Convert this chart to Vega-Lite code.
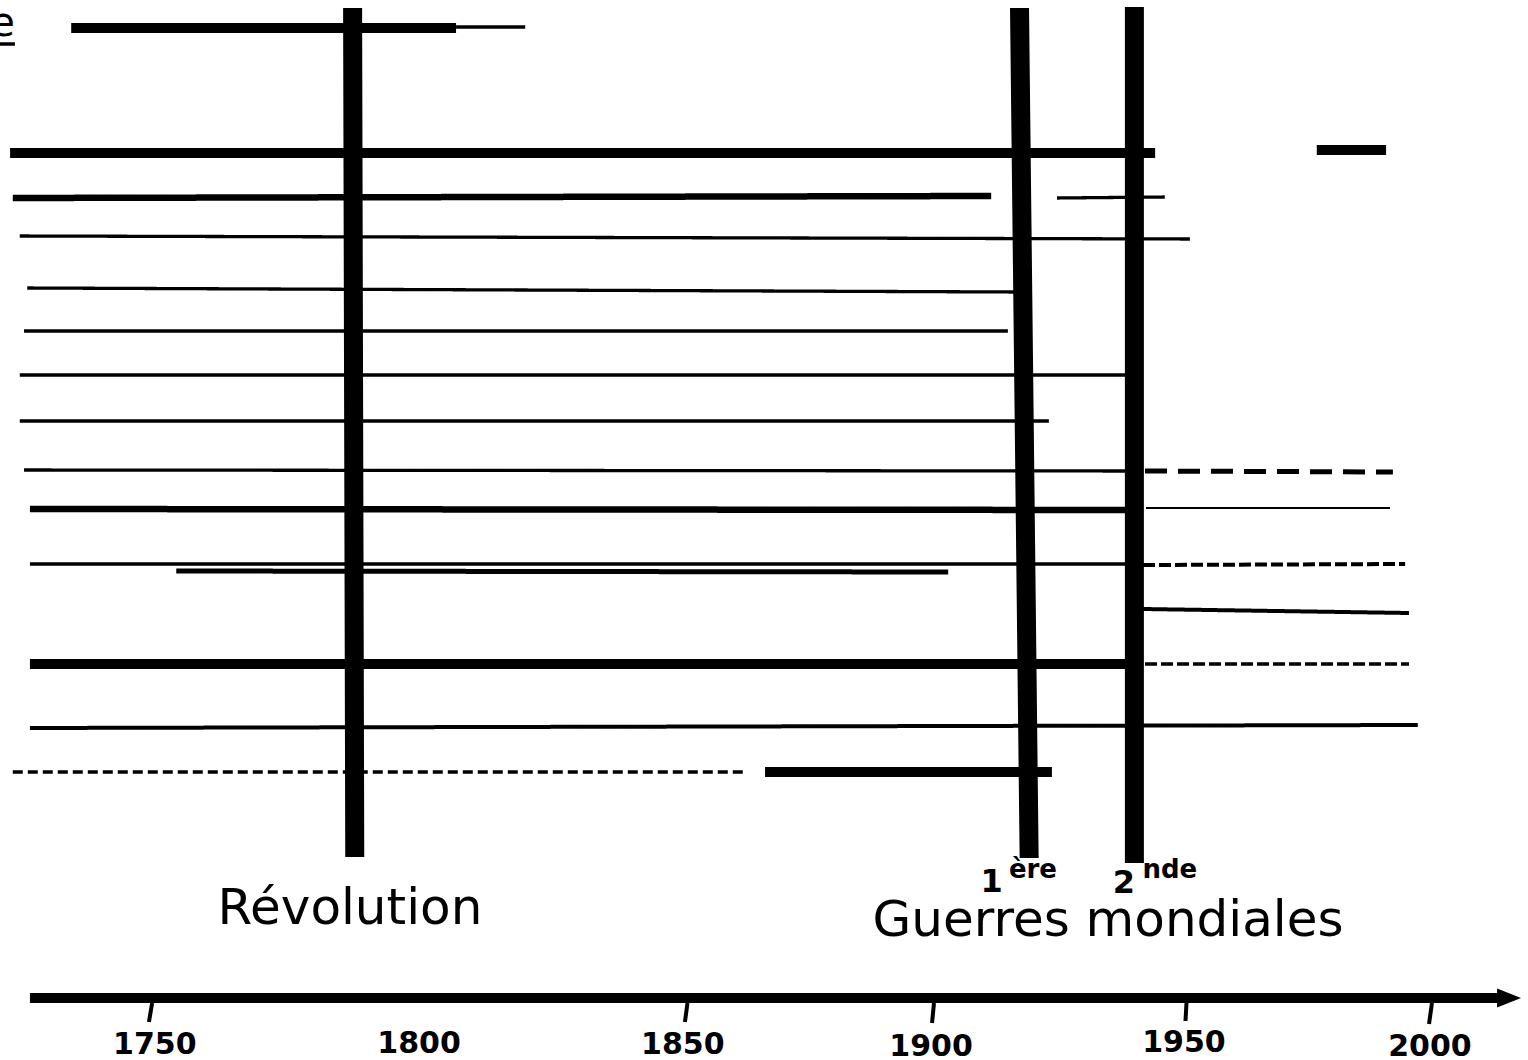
{
  "$schema": "https://vega.github.io/schema/vega-lite/v6.json",
  "width": 1528,
  "height": 1060,
  "autosize": {"type": "none"},
  "padding": 0,
  "background": "white",
  "config": {"view": {"stroke": null}},
  "datasets": {
    "segments": [
      {"nom": "ligne 1", "debut": 1735.3, "fin": 1807.1, "niveau": 28, "niveau2": 28, "epaisseur": "très épais", "trait": "plein"},
      {"nom": "ligne 1 suite", "debut": 1807.1, "fin": 1820.0, "niveau": 27, "niveau2": 27, "epaisseur": "fin", "trait": "plein"},
      {"nom": "ligne 2", "debut": 1723.9, "fin": 1943.9, "niveau": 153, "niveau2": 153, "epaisseur": "très épais", "trait": "plein"},
      {"nom": "ligne 2 reprise", "debut": 1976.8, "fin": 1991.0, "niveau": 150, "niveau2": 150, "epaisseur": "très épais", "trait": "plein"},
      {"nom": "ligne 3", "debut": 1724.4, "fin": 1911.5, "niveau": 198, "niveau2": 196, "epaisseur": "épais", "trait": "plein"},
      {"nom": "ligne 3 reprise", "debut": 1924.5, "fin": 1945.8, "niveau": 198, "niveau2": 197, "epaisseur": "fin", "trait": "plein"},
      {"nom": "ligne 4", "debut": 1725.7, "fin": 1950.8, "niveau": 236, "niveau2": 239, "epaisseur": "fin", "trait": "plein"},
      {"nom": "ligne 5", "debut": 1727.1, "fin": 1916.2, "niveau": 288, "niveau2": 292, "epaisseur": "fin", "trait": "plein"},
      {"nom": "ligne 6", "debut": 1726.5, "fin": 1914.8, "niveau": 331, "niveau2": 331, "epaisseur": "fin", "trait": "plein"},
      {"nom": "ligne 7", "debut": 1725.7, "fin": 1938.3, "niveau": 375, "niveau2": 375, "epaisseur": "fin", "trait": "plein"},
      {"nom": "ligne 8", "debut": 1725.7, "fin": 1922.9, "niveau": 421, "niveau2": 421, "epaisseur": "fin", "trait": "plein"},
      {"nom": "ligne 9", "debut": 1726.5, "fin": 1938.9, "niveau": 470, "niveau2": 471, "epaisseur": "fin", "trait": "plein"},
      {"nom": "ligne 9 suite", "debut": 1941.9, "fin": 1992.4, "niveau": 471, "niveau2": 472, "epaisseur": "moyen", "trait": "tirets longs"},
      {"nom": "ligne 10", "debut": 1727.6, "fin": 1938.9, "niveau": 509, "niveau2": 510, "epaisseur": "épais", "trait": "plein"},
      {"nom": "ligne 10 suite", "debut": 1942.1, "fin": 1991.8, "niveau": 508, "niveau2": 508, "epaisseur": "très fin", "trait": "plein"},
      {"nom": "ligne 11", "debut": 1727.6, "fin": 1938.9, "niveau": 564, "niveau2": 564, "epaisseur": "fin", "trait": "plein"},
      {"nom": "ligne 11 suite", "debut": 1941.5, "fin": 1994.9, "niveau": 565, "niveau2": 564, "epaisseur": "normal", "trait": "tirets"},
      {"nom": "ligne 12", "debut": 1754.9, "fin": 1903.0, "niveau": 571, "niveau2": 572, "epaisseur": "moyen", "trait": "plein"},
      {"nom": "ligne 13", "debut": 1941.5, "fin": 1995.7, "niveau": 609, "niveau2": 613, "epaisseur": "normal", "trait": "plein"},
      {"nom": "ligne 14", "debut": 1727.6, "fin": 1938.9, "niveau": 664, "niveau2": 664, "epaisseur": "très épais", "trait": "plein"},
      {"nom": "ligne 14 suite", "debut": 1941.9, "fin": 1995.7, "niveau": 664, "niveau2": 664, "epaisseur": "fin", "trait": "tirets"},
      {"nom": "ligne 15", "debut": 1727.6, "fin": 1997.5, "niveau": 728, "niveau2": 725, "epaisseur": "normal", "trait": "plein"},
      {"nom": "ligne 16", "debut": 1724.4, "fin": 1861.9, "niveau": 772, "niveau2": 772, "epaisseur": "fin", "trait": "tirets courts"},
      {"nom": "ligne 16 suite", "debut": 1866.0, "fin": 1923.5, "niveau": 772, "niveau2": 772, "epaisseur": "très épais", "trait": "plein"},
      {"nom": "Révolution", "debut": 1787.8, "fin": 1788.2, "niveau": 8, "niveau2": 857, "epaisseur": "barre", "trait": "plein"},
      {"nom": "1ère Guerre mondiale", "debut": 1917.1, "fin": 1919.0, "niveau": 8, "niveau2": 858, "epaisseur": "barre", "trait": "plein"},
      {"nom": "2nde Guerre mondiale", "debut": 1939.8, "fin": 1939.8, "niveau": 7, "niveau2": 863, "epaisseur": "barre", "trait": "plein"},
      {"nom": "axe du temps", "debut": 1727.6, "fin": 2014.3, "niveau": 998, "niveau2": 998, "epaisseur": "très épais", "trait": "plein"},
      {"nom": "graduation 1750", "debut": 1750.4, "fin": 1749.8, "niveau": 1003, "niveau2": 1022, "epaisseur": "normal", "trait": "plein"},
      {"nom": "graduation 1850", "debut": 1850.3, "fin": 1849.8, "niveau": 1003, "niveau2": 1022, "epaisseur": "normal", "trait": "plein"},
      {"nom": "graduation 1900", "debut": 1900.2, "fin": 1899.8, "niveau": 1003, "niveau2": 1023, "epaisseur": "normal", "trait": "plein"},
      {"nom": "graduation 1950", "debut": 1950.1, "fin": 1949.9, "niveau": 1003, "niveau2": 1021, "epaisseur": "normal", "trait": "plein"},
      {"nom": "graduation 2000", "debut": 2000.4, "fin": 1999.8, "niveau": 1003, "niveau2": 1024, "epaisseur": "normal", "trait": "plein"},
      {"nom": "soulignement", "debut": 1722.0, "fin": 1724.8, "niveau": 44, "niveau2": 44, "epaisseur": "fin", "trait": "plein"}
    ],
    "etiquettes": [
      {"texte": "e", "an": 1724.8, "niveau": 36, "role": "fragment"},
      {"texte": "Révolution", "an": 1787.3, "niveau": 924, "role": "titre"},
      {"texte": "Guerres mondiales", "an": 1934.6, "niveau": 936, "role": "titre"},
      {"texte": "1", "an": 1911.6, "niveau": 892, "role": "numero"},
      {"texte": "2", "an": 1937.7, "niveau": 893, "role": "numero"},
      {"texte": "ère", "an": 1915.0, "niveau": 878, "role": "exposant"},
      {"texte": "nde", "an": 1941.4, "niveau": 878, "role": "exposant"},
      {"texte": "1750", "an": 1750.9, "niveau": 1054, "role": "annee"},
      {"texte": "1800", "an": 1800.2, "niveau": 1053, "role": "annee"},
      {"texte": "1850", "an": 1849.4, "niveau": 1054, "role": "annee"},
      {"texte": "1900", "an": 1899.6, "niveau": 1056, "role": "annee"},
      {"texte": "1950", "an": 1949.6, "niveau": 1052, "role": "annee"},
      {"texte": "2000", "an": 2000.0, "niveau": 1056, "role": "annee"}
    ],
    "fleche": [
      {"an": 2016.2, "niveau": 998}
    ]
  },
  "layer": [
    {
      "data": {"name": "segments"},
      "mark": {"type": "rule", "color": "black", "strokeCap": "butt"},
      "encoding": {
        "x": {"field": "debut", "type": "quantitative", "axis": null,
              "scale": {"domain": [1750, 1850, 1900, 1950, 2000], "range": [150, 686, 933, 1186, 1430], "nice": false, "zero": false}},
        "x2": {"field": "fin"},
        "y": {"field": "niveau", "type": "quantitative", "axis": null,
              "scale": {"domain": [0, 1060], "range": [0, 1060], "nice": false, "zero": false}},
        "y2": {"field": "niveau2"},
        "strokeWidth": {"field": "epaisseur", "type": "nominal", "legend": null,
              "scale": {"type": "ordinal", "domain": ["barre", "très épais", "épais", "moyen", "normal", "fin", "très fin"], "range": [19, 10, 6.5, 5, 4, 3.3, 2]}},
        "strokeDash": {"field": "trait", "type": "nominal", "legend": null,
              "scale": {"type": "ordinal", "domain": ["plein", "tirets longs", "tirets", "tirets courts"], "range": [[1, 0], [22, 11], [12, 4], [10, 5]]}}
      }
    },
    {
      "data": {"name": "fleche"},
      "mark": {"type": "point", "shape": "M-1,-0.8L1,0L-1,0.8Z", "filled": true, "color": "black", "size": 576, "opacity": 1, "strokeWidth": 0},
      "encoding": {
        "x": {"field": "an", "type": "quantitative", "axis": null,
              "scale": {"domain": [1750, 1850, 1900, 1950, 2000], "range": [150, 686, 933, 1186, 1430], "nice": false, "zero": false}},
        "y": {"field": "niveau", "type": "quantitative", "axis": null,
              "scale": {"domain": [0, 1060], "range": [0, 1060], "nice": false, "zero": false}}
      }
    },
    {
      "data": {"name": "etiquettes"},
      "transform": [{"filter": "datum.role === 'titre'"}],
      "mark": {"type": "text", "font": "DejaVu Sans", "fontSize": 50, "align": "center", "baseline": "alphabetic", "color": "black"},
      "encoding": {
        "x": {"field": "an", "type": "quantitative", "axis": null,
              "scale": {"domain": [1750, 1850, 1900, 1950, 2000], "range": [150, 686, 933, 1186, 1430], "nice": false, "zero": false}},
        "y": {"field": "niveau", "type": "quantitative", "axis": null,
              "scale": {"domain": [0, 1060], "range": [0, 1060], "nice": false, "zero": false}},
        "text": {"field": "texte"}
      }
    },
    {
      "data": {"name": "etiquettes"},
      "transform": [{"filter": "datum.role === 'fragment'"}],
      "mark": {"type": "text", "font": "DejaVu Sans", "fontSize": 40, "align": "right", "baseline": "alphabetic", "color": "black"},
      "encoding": {
        "x": {"field": "an", "type": "quantitative", "axis": null,
              "scale": {"domain": [1750, 1850, 1900, 1950, 2000], "range": [150, 686, 933, 1186, 1430], "nice": false, "zero": false}},
        "y": {"field": "niveau", "type": "quantitative", "axis": null,
              "scale": {"domain": [0, 1060], "range": [0, 1060], "nice": false, "zero": false}},
        "text": {"field": "texte"}
      }
    },
    {
      "data": {"name": "etiquettes"},
      "transform": [{"filter": "datum.role === 'numero'"}],
      "mark": {"type": "text", "font": "DejaVu Sans", "fontWeight": "bold", "fontSize": 32, "align": "center", "baseline": "alphabetic", "color": "black"},
      "encoding": {
        "x": {"field": "an", "type": "quantitative", "axis": null,
              "scale": {"domain": [1750, 1850, 1900, 1950, 2000], "range": [150, 686, 933, 1186, 1430], "nice": false, "zero": false}},
        "y": {"field": "niveau", "type": "quantitative", "axis": null,
              "scale": {"domain": [0, 1060], "range": [0, 1060], "nice": false, "zero": false}},
        "text": {"field": "texte"}
      }
    },
    {
      "data": {"name": "etiquettes"},
      "transform": [{"filter": "datum.role === 'exposant'"}],
      "mark": {"type": "text", "font": "DejaVu Sans", "fontWeight": "bold", "fontSize": 26, "align": "left", "baseline": "alphabetic", "color": "black"},
      "encoding": {
        "x": {"field": "an", "type": "quantitative", "axis": null,
              "scale": {"domain": [1750, 1850, 1900, 1950, 2000], "range": [150, 686, 933, 1186, 1430], "nice": false, "zero": false}},
        "y": {"field": "niveau", "type": "quantitative", "axis": null,
              "scale": {"domain": [0, 1060], "range": [0, 1060], "nice": false, "zero": false}},
        "text": {"field": "texte"}
      }
    },
    {
      "data": {"name": "etiquettes"},
      "transform": [{"filter": "datum.role === 'annee'"}],
      "mark": {"type": "text", "font": "DejaVu Sans", "fontWeight": "bold", "fontSize": 30, "align": "center", "baseline": "alphabetic", "color": "black"},
      "encoding": {
        "x": {"field": "an", "type": "quantitative", "axis": null,
              "scale": {"domain": [1750, 1850, 1900, 1950, 2000], "range": [150, 686, 933, 1186, 1430], "nice": false, "zero": false}},
        "y": {"field": "niveau", "type": "quantitative", "axis": null,
              "scale": {"domain": [0, 1060], "range": [0, 1060], "nice": false, "zero": false}},
        "text": {"field": "texte"}
      }
    }
  ]
}
